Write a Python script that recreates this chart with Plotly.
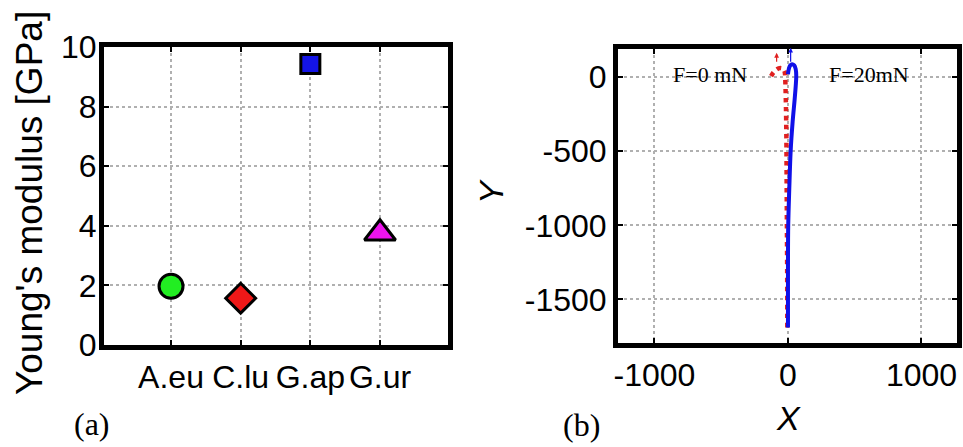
import plotly.graph_objects as go

# ---------------- data ----------------
species = ["A.eu", "C.lu", "G.ap", "G.ur"]
youngs_modulus = [1.97, 1.57, 9.43, 3.75]

y_ticks_a = [0, 2, 4, 6, 8, 10]
x_ticks_b = [-1000, 0, 1000]
x_ticktext_b = ["-1000", "0", "1000"]
y_ticks_b = [-1500, -1000, -500, 0]
y_ticktext_b = ["-1500", "-1000", "-500", "0"]

# deflection profiles (b)
f0_x = [-5, -6, -8, -10, -12, -15, -18, -20, -22, -28, -45, -70, -95, -115, -128]
f0_y = [-1690, -1300, -1000, -700, -400, -200, -80, -20, 20, 45, 60, 60, 45, 25, 5]

f20_x = [0, 0, 2, 10, 20, 35, 50, 58, 62, 58, 47, 30, 15, 5, 0]
f20_y = [-1690, -1300, -1000, -750, -500, -300, -150, -60, 10, 55, 80, 88, 78, 50, 20]

# ---------------- styles ----------------
marker_symbols = ["circle", "diamond", "square", "triangle-up"]
marker_colors = ["#22ee22", "#f01818", "#1414e6", "#ee14ee"]
marker_sizes = [24, 23, 19, 27]

W, H = 963, 447
def px_x(p):
    return p / W
def px_y(p):
    return 1 - p / H

SANS = "Liberation Sans, Arial, sans-serif"
SERIF = "Liberation Serif, Times New Roman, serif"

fig = go.Figure()

for name, val, sym, col, sz in zip(species, youngs_modulus, marker_symbols, marker_colors, marker_sizes):
    fig.add_trace(go.Scatter(
        x=[name], y=[val], mode="markers", xaxis="x", yaxis="y",
        marker=dict(symbol=sym, color=col, size=sz, line=dict(color="black", width=3)),
        showlegend=False, cliponaxis=False,
    ))

fig.add_trace(go.Scatter(
    x=f0_x, y=f0_y, mode="lines", xaxis="x2", yaxis="y2",
    line=dict(color="#e02020", width=4.5, dash="dot", shape="spline"), showlegend=False,
))
fig.add_trace(go.Scatter(
    x=f20_x, y=f20_y, mode="lines", xaxis="x2", yaxis="y2",
    line=dict(color="#1010e8", width=4, shape="spline"), showlegend=False,
))

axis_common = dict(
    showline=True, linecolor="black", linewidth=5, mirror="ticks",
    showgrid=True, gridcolor="#b0b0b0", gridwidth=2, griddash="dot",
    ticks="inside", ticklen=5, tickwidth=2, tickcolor="black",
    zeroline=False, automargin=False,
    tickfont=dict(family=SANS, size=32, color="black"),
)

fig.update_layout(
    width=W, height=H,
    margin=dict(l=0, r=0, t=0, b=0, autoexpand=False),
    paper_bgcolor="white", plot_bgcolor="white",
    xaxis=dict(axis_common, domain=[px_x(104), px_x(448)], type="category",
               categoryorder="array", categoryarray=species,
               range=[-0.962, 3.976], tickangle=0, anchor="y"),
    yaxis=dict(axis_common, domain=[px_y(345), px_y(47)], range=[0, 10],
               tickvals=y_ticks_a, anchor="x", ticklabelstandoff=-4),
    xaxis2=dict(axis_common, domain=[px_x(618), px_x(957)], range=[-1273, 1266],
                tickvals=x_ticks_b, ticktext=x_ticktext_b, anchor="y2"),
    yaxis2=dict(axis_common, domain=[px_y(343), px_y(49)], range=[-1795, 191],
                tickvals=y_ticks_b, ticktext=y_ticktext_b, anchor="x2"),
)

def paper_text(text, x, y, size, family, angle=0):
    return dict(text=text, xref="paper", yref="paper", x=px_x(x), y=px_y(y),
                xanchor="center", yanchor="middle", textangle=angle, showarrow=False,
                font=dict(family=family, size=size, color="black"))

ann = [
    paper_text("Young's modulus [GPa]", 29, 203, 37, SANS, -90),
    paper_text("(a)", 92, 424, 32, SERIF),
    paper_text("(b)", 581, 425, 32, SERIF),
    paper_text("<i>X</i>", 788, 418, 34, SANS),
    paper_text("<i>Y</i>", 491, 192, 34, SANS, -90),
]
ann.append(dict(text="F=0 mN", xref="x2", yref="y2", x=-584, y=20, showarrow=False,
                xanchor="center", yanchor="middle",
                font=dict(family=SERIF, size=22, color="black")))
ann.append(dict(text="F=20mN", xref="x2", yref="y2", x=610, y=20, showarrow=False,
                xanchor="center", yanchor="middle",
                font=dict(family=SERIF, size=22, color="black")))
ann.append(dict(text="", xref="x2", yref="y2", axref="x2", ayref="y2",
                x=-85, y=165, ax=-85, ay=95, showarrow=True, arrowhead=2,
                arrowsize=0.8, arrowwidth=1.2, arrowcolor="#e02020"))
ann.append(dict(text="", xref="x2", yref="y2", axref="x2", ayref="y2",
                x=20, y=200, ax=20, ay=95, showarrow=True, arrowhead=2,
                arrowsize=0.8, arrowwidth=1.2, arrowcolor="#1010e8"))
fig.update_layout(annotations=ann)

fig.write_html("out.html", config={"displayModeBar": False},
               post_script="document.body.style.margin='0px';document.body.style.overflow='hidden';")
